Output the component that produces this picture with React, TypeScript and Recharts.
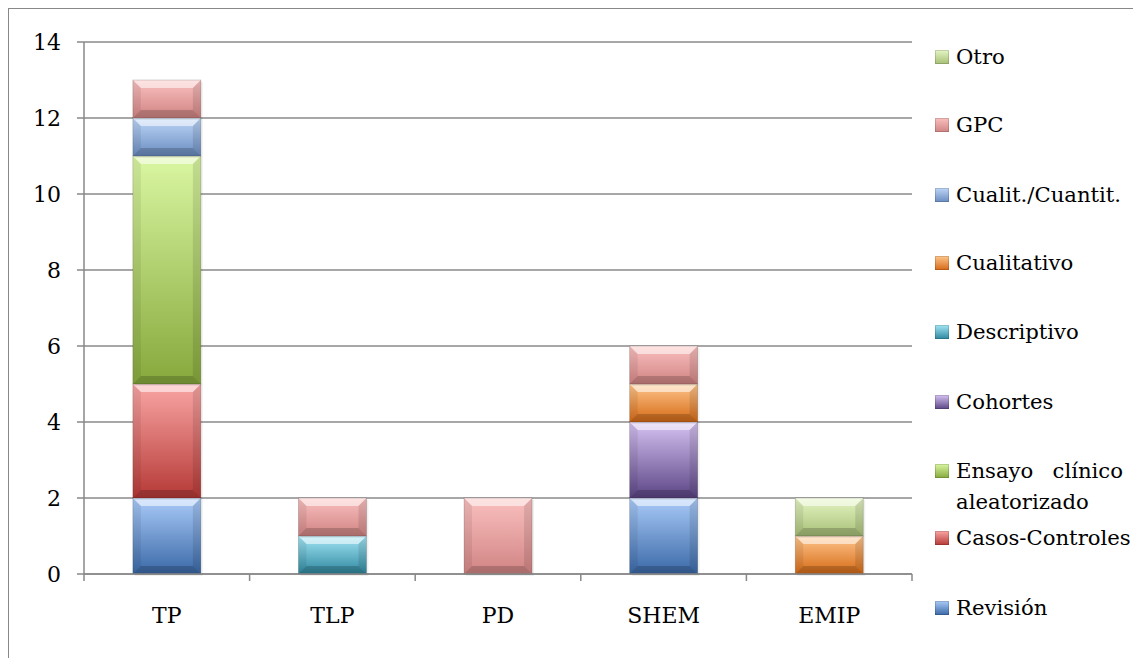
import React from "react"
import { BarChart, Bar, XAxis, YAxis, CartesianGrid } from "recharts"

const categories = ["TP", "TLP", "PD", "SHEM", "EMIP"]
const revision = [2, 0, 0, 2, 0]
const casosControles = [3, 0, 0, 0, 0]
const ensayo = [6, 0, 0, 0, 0]
const cohortes = [0, 0, 0, 2, 0]
const descriptivo = [0, 1, 0, 0, 0]
const cualitativo = [0, 0, 0, 1, 1]
const cualitCuantit = [1, 0, 0, 0, 0]
const gpc = [1, 1, 2, 1, 0]
const otro = [0, 0, 0, 0, 1]
const yTicks = [0, 2, 4, 6, 8, 10, 12, 14]

// bottom to top stacking order
const series = [
  { key: "revision", name: "Revisión", values: revision, light: "#aacbf9", dark: "#3a68a6" },
  { key: "casos", name: "Casos-Controles", values: casosControles, light: "#f9a6a4", dark: "#b53936" },
  { key: "ensayo", name: "Ensayo clínico aleatorizado", values: ensayo, light: "#daf7a2", dark: "#86a83c" },
  { key: "cohortes", name: "Cohortes", values: cohortes, light: "#d6c2f2", dark: "#5c4585" },
  { key: "descriptivo", name: "Descriptivo", values: descriptivo, light: "#a2e6f6", dark: "#2e879e" },
  { key: "cualitativo", name: "Cualitativo", values: cualitativo, light: "#ffc68c", dark: "#d56a16" },
  { key: "cualitCuantit", name: "Cualit./Cuantit.", values: cualitCuantit, light: "#bed7f8", dark: "#6a8cc0" },
  { key: "gpc", name: "GPC", values: gpc, light: "#fac0bf", dark: "#d08483" },
  { key: "otro", name: "Otro", values: otro, light: "#e5f6c4", dark: "#a7bf76" },
]

const data = categories.map((c, i) => {
  const row: any = { cat: c }
  series.forEach((s) => (row[s.key] = s.values[i]))
  return row
})

const FONT = "'DejaVu Serif', serif"
const CHART_W = 1124
const CHART_H = 649
const MARGIN = { top: 33, right: 221, bottom: 54, left: 0 }
const Y_W = 75
const BAND = (CHART_W - MARGIN.left - MARGIN.right - Y_W) / categories.length

// legend vertical centres (chart coords), top item first
const legendY = [48, 116, 186, 254, 323, 393, 477, 529, 599]

const BevelBar = (props: any) => {
  const { x, y, width, height, gradId } = props
  if (!height || height <= 0) return null
  const b = Math.min(8, height / 3)
  return (
    <g>
      <rect x={x + 2} y={y + 2} width={width} height={height} fill="#000" opacity={0.06} />
      <rect x={x} y={y} width={width} height={height} fill={`url(#${gradId})`} />
      <polygon points={`${x},${y} ${x + width},${y} ${x + width - b},${y + b} ${x + b},${y + b}`} fill="#fff" opacity={0.55} />
      <polygon points={`${x},${y + height} ${x + width},${y + height} ${x + width - b},${y + height - b} ${x + b},${y + height - b}`} fill="#000" opacity={0.18} />
      <polygon points={`${x},${y} ${x + b},${y + b} ${x + b},${y + height - b} ${x},${y + height}`} fill="#000" opacity={0.07} />
      <polygon points={`${x + width},${y} ${x + width - b},${y + b} ${x + width - b},${y + height - b} ${x + width},${y + height}`} fill="#000" opacity={0.1} />
      <rect x={x} y={y} width={width} height={height} fill="none" stroke="#000" strokeOpacity={0.2} strokeWidth={0.8} />
    </g>
  )
}

const XTick = (props: any) => {
  const { x, y, payload, index } = props
  return (
    <g>
      <line x1={x - BAND / 2} y1={y} x2={x - BAND / 2} y2={y + 7} stroke="#888" strokeWidth={1.5} />
      {index === categories.length - 1 && (
        <line x1={x + BAND / 2} y1={y} x2={x + BAND / 2} y2={y + 7} stroke="#888" strokeWidth={1.5} />
      )}
      <text
        x={x}
        y={y + 41}
        textAnchor="middle"
        dominantBaseline="central"
        style={{ fontFamily: "DejaVu Serif", fontSize: 22, fill: "#000" }}
      >
        {payload.value}
      </text>
    </g>
  )
}

export default function App() {
  const legendItems = [...series].reverse()
  return (
    <div
      style={{
        position: "relative",
        width: 1125,
        height: 650,
        boxSizing: "border-box",
        borderLeft: "1px solid #888",
        borderTop: "1px solid #888",
        fontFamily: FONT,
      }}
    >
      <BarChart width={CHART_W} height={CHART_H} data={data} margin={MARGIN} barCategoryGap="29.5%">
        <defs>
          {series.map((s) => (
            <linearGradient key={s.key} id={`g-${s.key}`} x1="0" y1="0" x2="0" y2="1">
              <stop offset="0%" stopColor={s.light} />
              <stop offset="100%" stopColor={s.dark} />
            </linearGradient>
          ))}
        </defs>
        <CartesianGrid vertical={false} stroke="#8a8a8a" strokeWidth={1.5} />
        <XAxis
          dataKey="cat"
          height={30}
          tickSize={0}
          tickMargin={0}
          tickLine={false}
          axisLine={{ stroke: "#888", strokeWidth: 1.5 }}
          tick={<XTick />}
          interval={0}
        />
        <YAxis
          width={Y_W}
          domain={[0, 14]}
          ticks={yTicks}
          tickSize={7}
          tickMargin={16}
          axisLine={{ stroke: "#888", strokeWidth: 1.5 }}
          tickLine={{ stroke: "#888", strokeWidth: 1.5 }}
          tick={{ fontFamily: FONT, fontSize: 22, fill: "#000" }}
        />
        {series.map((s) => (
          <Bar
            key={s.key}
            dataKey={s.key}
            name={s.name}
            stackId="a"
            isAnimationActive={false}
            shape={(p: any) => <BevelBar {...p} gradId={`g-${s.key}`} />}
          />
        ))}
      </BarChart>
      {legendItems.map((s, i) => {
        const twoLines = s.key === "ensayo"
        return (
          <div
            key={s.key}
            style={{
              position: "absolute",
              left: 926,
              top: twoLines ? legendY[i] - 16 - 31 / 2 : legendY[i] - 16,
              display: "flex",
              alignItems: "flex-start",
              fontSize: 21.2,
              lineHeight: "31px",
              color: "#000",
              whiteSpace: twoLines ? "normal" : "nowrap",
            }}
          >
            <div
              style={{
                width: 14,
                height: 14,
                marginTop: 9,
                marginRight: 7,
                background: `linear-gradient(${s.light}, ${s.dark})`,
                boxShadow: "inset 0 0 0 1px rgba(0,0,0,0.15)",
                flex: "none",
              }}
            />
            <div style={twoLines ? { width: 167, textAlign: "justify" } : undefined}>{s.name}</div>
          </div>
        )
      })}
    </div>
  )
}
